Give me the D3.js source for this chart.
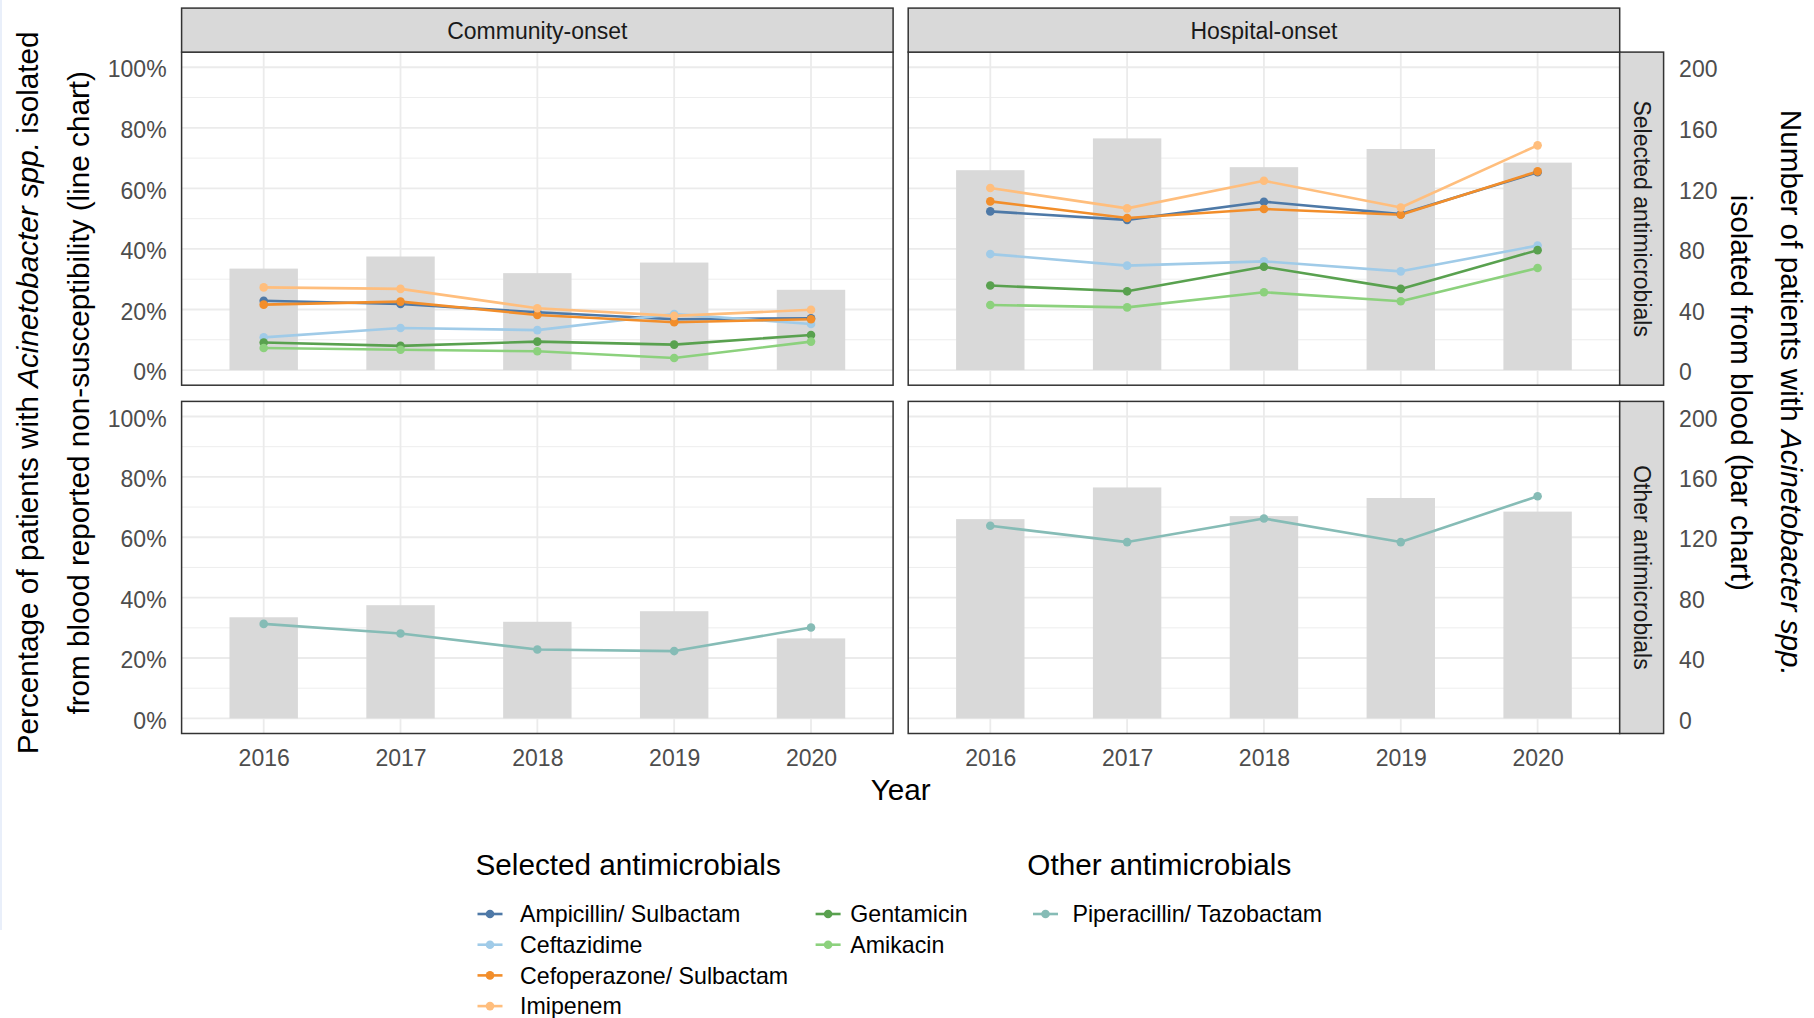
<!DOCTYPE html>
<html>
<head>
<meta charset="utf-8">
<script src="https://cdn.jsdelivr.net/npm/d3@7"></script>
<style>
  body { margin: 0; background: #fff; }
  svg { display: block; font-family: "Liberation Sans", Arial, sans-serif; }
</style>
</head>
<body>
<svg id="chart" width="1814" height="1018"></svg>
<script>
// ---- data ----
const years = [2016, 2017, 2018, 2019, 2020];
const onsetTypes = ["Community-onset", "Hospital-onset"];
const groups = ["Selected antimicrobials", "Other antimicrobials"];
const selectedDrugs = ["Ampicillin/ Sulbactam", "Ceftazidime", "Cefoperazone/ Sulbactam", "Imipenem", "Gentamicin", "Amikacin"];
const otherDrugs = ["Piperacillin/ Tazobactam"];
const selectedColors = ["#4E79A7", "#A0CBE8", "#F28E2B", "#FFBE7D", "#59A14F", "#8CD17D"];
const otherColors = ["#86BCB6"];

// patients with Acinetobacter spp. isolated from blood (bars)
const patientsCommunity = [67, 75, 64, 71, 53];
const patientsHospital = [132, 153, 134, 146, 137];

// % non-susceptible, community-onset
const ampicillinCommunity = [22.9, 21.8, 19.1, 16.8, 17.1];
const ceftazidimeCommunity = [10.8, 13.9, 13.2, 18.5, 15.2];
const cefoperazoneCommunity = [21.6, 22.6, 18.2, 15.8, 16.8];
const imipenemCommunity = [27.3, 26.8, 20.4, 17.9, 19.9];
const gentamicinCommunity = [9.1, 8.0, 9.4, 8.4, 11.6];
const amikacinCommunity = [7.3, 6.7, 6.2, 4.0, 9.4];
const piperacillinCommunity = [31.3, 28.1, 22.8, 22.3, 30.1];

// % non-susceptible, hospital-onset
const ampicillinHospital = [52.4, 49.6, 55.6, 51.5, 65.3];
const ceftazidimeHospital = [38.3, 34.5, 35.9, 32.6, 41.1];
const cefoperazoneHospital = [55.7, 50.2, 53.2, 51.3, 65.6];
const imipenemHospital = [60.1, 53.4, 62.5, 53.7, 74.2];
const gentamicinHospital = [27.9, 26.0, 34.1, 26.8, 39.6];
const amikacinHospital = [21.5, 20.7, 25.7, 22.7, 33.7];
const piperacillinHospital = [63.8, 58.4, 66.2, 58.4, 73.6];

const pctTicks = [0, 20, 40, 60, 80, 100];
const pctMinor = [10, 30, 50, 70, 90];
const countTicks = [0, 40, 80, 120, 160, 200];

// ---- assemble panels ----
const patients = [patientsCommunity, patientsHospital];
const seriesByPanel = [
  [ // selected antimicrobials
    [ampicillinCommunity, ceftazidimeCommunity, cefoperazoneCommunity, imipenemCommunity, gentamicinCommunity, amikacinCommunity],
    [ampicillinHospital, ceftazidimeHospital, cefoperazoneHospital, imipenemHospital, gentamicinHospital, amikacinHospital]
  ],
  [ // other antimicrobials
    [piperacillinCommunity],
    [piperacillinHospital]
  ]
];
const rowColors = [selectedColors, otherColors];

// ---- layout ----
const svg = d3.select("#chart");
const colX = [[181.6, 893.1], [908.2, 1619.7]];
const rowY = [[52.1, 385.2], [401.4, 733.5]];
const stripTop = 8.1;
const stripRightX1 = 1663.6;
const borderColor = "#333333";
const gridColor = "#EBEBEB";
const stripFill = "#D9D9D9";
const barFill = "#D9D9D9";
const axisTextColor = "#4D4D4D";
const lineWidth = 2.6;
const pointR = 4.3;
const titleSize = 29.7;

// faint edge line at the left side of the page
svg.append("rect").attr("x", 0).attr("y", 0).attr("width", 2).attr("height", 930).attr("fill", "#E9EFFA");

const xScales = colX.map(([a, b]) => d3.scalePoint().domain(years).range([a, b]).padding(0.6));
const yScales = rowY.map(([t, b]) => d3.scaleLinear().domain([-5, 105]).range([b, t]));
const countScales = rowY.map(([t, b]) => d3.scaleLinear().domain([-10, 210]).range([b, t]));

groups.forEach((grp, r) => {
  onsetTypes.forEach((onset, c) => {
    const x = xScales[c], y = yScales[r], yc = countScales[r];
    const [x0, x1] = colX[c], [y0, y1] = rowY[r];
    const g = svg.append("g");

    g.append("rect").attr("x", x0).attr("y", y0).attr("width", x1 - x0).attr("height", y1 - y0).attr("fill", "#fff");

    // grid
    g.selectAll(".minor").data(pctMinor).join("line")
      .attr("x1", x0).attr("x2", x1).attr("y1", d => y(d)).attr("y2", d => y(d))
      .attr("stroke", gridColor).attr("stroke-width", 0.9);
    g.selectAll(".major").data(pctTicks).join("line")
      .attr("x1", x0).attr("x2", x1).attr("y1", d => y(d)).attr("y2", d => y(d))
      .attr("stroke", gridColor).attr("stroke-width", 1.8);
    g.selectAll(".vmajor").data(years).join("line")
      .attr("x1", d => x(d)).attr("x2", d => x(d)).attr("y1", y0).attr("y2", y1)
      .attr("stroke", gridColor).attr("stroke-width", 1.8);

    // bars: number of patients
    const bw = x.step() * 0.5;
    g.selectAll(".bar").data(years.map((yr, i) => ({ yr, n: patients[c][i] }))).join("rect")
      .attr("x", d => x(d.yr) - bw / 2).attr("width", bw)
      .attr("y", d => yc(d.n)).attr("height", d => yc(0) - yc(d.n))
      .attr("fill", barFill);

    // lines then points
    const line = d3.line().x(d => x(d.yr)).y(d => y(d.v));
    const series = seriesByPanel[r][c].map((vals, k) => ({
      color: rowColors[r][k],
      pts: years.map((yr, i) => ({ yr, v: vals[i] }))
    }));
    series.forEach(s => {
      g.append("path").datum(s.pts).attr("d", line).attr("fill", "none")
        .attr("stroke", s.color).attr("stroke-width", lineWidth).attr("stroke-linejoin", "round");
    });
    series.forEach(s => {
      g.selectAll(null).data(s.pts).join("circle")
        .attr("cx", d => x(d.yr)).attr("cy", d => y(d.v)).attr("r", pointR).attr("fill", s.color);
    });

    // border
    g.append("rect").attr("x", x0).attr("y", y0).attr("width", x1 - x0).attr("height", y1 - y0)
      .attr("fill", "none").attr("stroke", borderColor).attr("stroke-width", 1.5);
  });
});

// column strips
onsetTypes.forEach((onset, c) => {
  const [x0, x1] = colX[c];
  svg.append("rect").attr("x", x0).attr("y", stripTop).attr("width", x1 - x0).attr("height", rowY[0][0] - stripTop)
    .attr("fill", stripFill).attr("stroke", borderColor).attr("stroke-width", 1.5);
  svg.append("text").attr("x", (x0 + x1) / 2).attr("y", (stripTop + rowY[0][0]) / 2).attr("dy", "0.4em")
    .attr("text-anchor", "middle").attr("font-size", 23).attr("fill", "#1A1A1A").text(onset);
});

// row strips
groups.forEach((grp, r) => {
  const [y0, y1] = rowY[r];
  const sx0 = colX[1][1];
  svg.append("rect").attr("x", sx0).attr("y", y0).attr("width", stripRightX1 - sx0).attr("height", y1 - y0)
    .attr("fill", stripFill).attr("stroke", borderColor).attr("stroke-width", 1.5);
  svg.append("text")
    .attr("transform", `translate(${(sx0 + stripRightX1) / 2},${(y0 + y1) / 2}) rotate(90)`)
    .attr("dy", "0.35em").attr("text-anchor", "middle").attr("font-size", 23).attr("fill", "#1A1A1A").text(grp);
});

// axes
function styleAxis(sel, dy) {
  sel.select(".domain").remove();
  sel.selectAll(".tick line").remove();
  const t = sel.selectAll("text").attr("font-size", 23).attr("fill", axisTextColor)
    .attr("font-family", "'Liberation Sans', Arial, sans-serif");
  if (dy) t.attr("dy", dy);
}
groups.forEach((grp, r) => {
  svg.append("g").attr("transform", `translate(${colX[0][0]},0)`)
    .call(d3.axisLeft(yScales[r]).tickValues(pctTicks).tickFormat(d => d + "%").tickSize(0).tickPadding(15))
    .call(styleAxis, "0.42em");
  svg.append("g").attr("transform", `translate(${stripRightX1},0)`)
    .call(d3.axisRight(countScales[r]).tickValues(countTicks).tickSize(0).tickPadding(15.5))
    .call(styleAxis, "0.42em");
});
onsetTypes.forEach((onset, c) => {
  svg.append("g").attr("transform", `translate(0,${rowY[1][1]})`)
    .call(d3.axisBottom(xScales[c]).tickSize(0).tickPadding(16))
    .call(styleAxis);
});

// axis titles
const panelMidY = (rowY[0][0] + rowY[1][1]) / 2;
svg.append("text").attr("x", (colX[0][0] + colX[1][1]) / 2).attr("y", 790).attr("dy", "0.35em")
  .attr("text-anchor", "middle").attr("font-size", titleSize).attr("fill", "#000").text("Year");

function titleLine(x, rot, parts) {
  const t = svg.append("text")
    .attr("transform", `translate(${x},${panelMidY}) rotate(${rot})`)
    .attr("dy", "0.35em").attr("text-anchor", "middle").attr("font-size", titleSize).attr("fill", "#000");
  parts.forEach(([s, it]) => t.append("tspan").attr("font-style", it ? "italic" : null).text(s));
}
titleLine(28, -90, [["Percentage of patients with ", false], ["Acinetobacter spp.", true], [" isolated", false]]);
titleLine(79, -90, [["from blood reported non-susceptibility (line chart)", false]]);
titleLine(1791, 90, [["Number of patients with ", false], ["Acinetobacter spp.", true]]);
titleLine(1741, 90, [["isolated from blood (bar chart)", false]]);

// legend
function legendBlock(title, tx, ty, names, colors, columns) {
  svg.append("text").attr("x", tx).attr("y", ty).attr("dy", "0.35em")
    .attr("font-size", titleSize).attr("fill", "#000").text(title);
  names.forEach((name, i) => {
    const col = columns.find(cl => i >= cl.from && i < cl.to);
    const ky = 914 + (i - col.from) * 30.7;
    const g = svg.append("g");
    g.append("line").attr("x1", col.kx).attr("x2", col.kx + 25).attr("y1", ky).attr("y2", ky)
      .attr("stroke", colors[i]).attr("stroke-width", lineWidth);
    g.append("circle").attr("cx", col.kx + 12.5).attr("cy", ky).attr("r", pointR).attr("fill", colors[i]);
    g.append("text").attr("x", col.tx).attr("y", ky).attr("dy", "0.36em")
      .attr("font-size", 23.2).attr("fill", "#000").text(name);
  });
}
legendBlock("Selected antimicrobials", 475.5, 865, selectedDrugs, selectedColors,
  [{ from: 0, to: 4, kx: 477.5, tx: 520 }, { from: 4, to: 6, kx: 815.6, tx: 850.3 }]);
legendBlock("Other antimicrobials", 1027.3, 865, otherDrugs, otherColors,
  [{ from: 0, to: 1, kx: 1033, tx: 1072.5 }]);
</script>
</body>
</html>
